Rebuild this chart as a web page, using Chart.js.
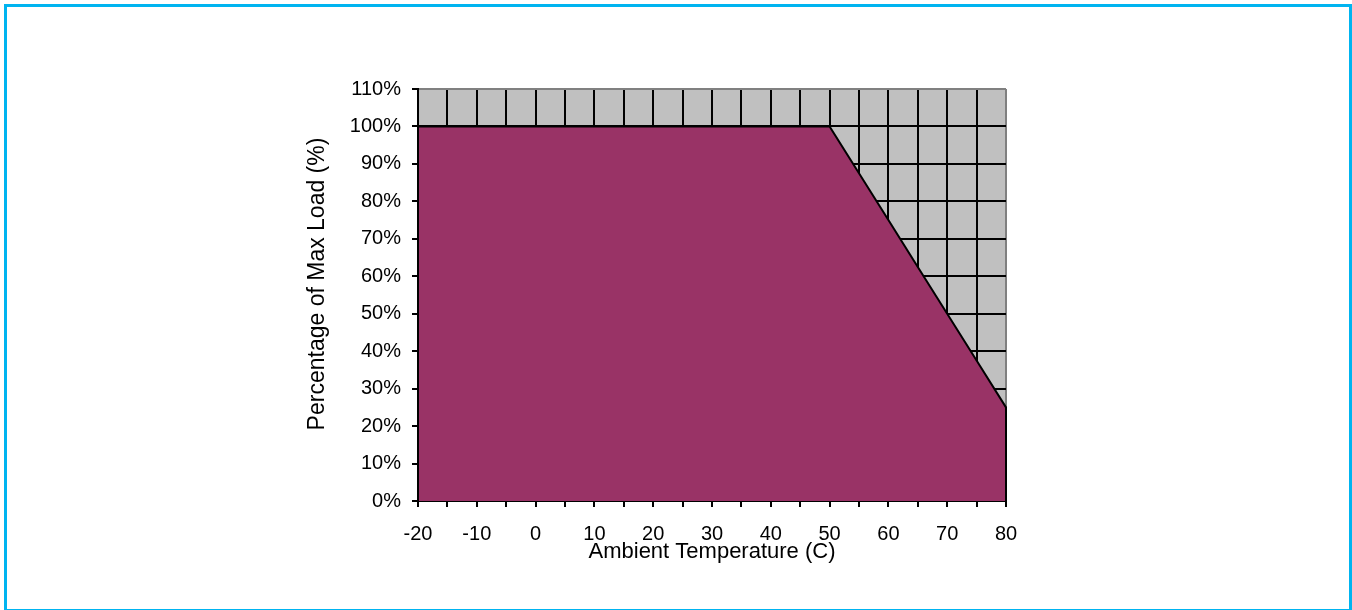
<!DOCTYPE html>
<html>
<head>
<meta charset="utf-8">
<script src="https://cdn.jsdelivr.net/npm/chart.js@4.4.1/dist/chart.umd.min.js"></script>
<style>
    html, body { margin: 0; padding: 0; background: #fff; }
    #wrap { position: absolute; left: 0; top: 0; width: 1352px; height: 610px; }
    #frame {
        position: absolute; left: 4px; top: 4px; width: 1348px; height: 608px;
        box-sizing: border-box; border: 3px solid #00b4f0; pointer-events: none;
    }
</style>
</head>
<body>
<div id="wrap"><canvas id="deratingChart"></canvas></div>
<div id="frame"></div>
<script>
// Derating curve data
const temps = [-20, -15, -10, -5, 0, 5, 10, 15, 20, 25, 30, 35, 40, 45, 50, 55, 60, 65, 70, 75, 80];
const loads = [100, 100, 100, 100, 100, 100, 100, 100, 100, 100, 100, 100, 100, 100, 100, 87.5, 75, 62.5, 50, 37.5, 25];
const yTicks = [0, 10, 20, 30, 40, 50, 60, 70, 80, 90, 100, 110];
const xTitle = "Ambient Temperature (C)";
const yTitle = "Percentage of Max Load (%)";

document.addEventListener("DOMContentLoaded", function () {
    const family = "'Liberation Sans', Arial, sans-serif";
    const tickFont = { family: family, size: 20 };
    const titleFont = { family: family, size: 22 };

    // closed outline so the right edge at 80 gets a black border too
    const points = temps.map((t, i) => ({ x: t, y: loads[i] }));
    const outline = [{ x: temps[0], y: 0 }, ...points, { x: temps[temps.length - 1], y: 0 }];

    const plotBackground = {
        id: "plotBackground",
        beforeDraw(chart) {
            const { ctx, chartArea } = chart;
            ctx.save();
            ctx.fillStyle = "#c0c0c0";
            ctx.fillRect(chartArea.left, chartArea.top, chartArea.width, chartArea.height);
            ctx.restore();
        }
    };

    // y title sits a little above the plot centre, like the original
    const sideTitle = {
        id: "sideTitle",
        afterDraw(chart) {
            const { ctx, chartArea } = chart;
            ctx.save();
            ctx.translate(317.5, (chartArea.top + chartArea.bottom) / 2 - 11);
            ctx.rotate(-Math.PI / 2);
            ctx.font = "23px " + family;
            ctx.fillStyle = "#000";
            ctx.textAlign = "center";
            ctx.textBaseline = "middle";
            ctx.fillText(yTitle, 0, 0);
            ctx.restore();
        }
    };

    new Chart(document.getElementById("deratingChart").getContext("2d"), {
        type: "line",
        data: {
            datasets: [{
                data: outline,
                fill: "origin",
                backgroundColor: "#993366",
                borderColor: "#000",
                borderWidth: 2,
                pointRadius: 0,
                tension: 0,
                clip: 2
            }]
        },
        options: {
            responsive: true,
            maintainAspectRatio: false,
            animation: false,
            layout: { padding: { left: 304, right: 346, top: 89, bottom: 45 } },
            plugins: { legend: { display: false }, tooltip: { enabled: false } },
            scales: {
                x: {
                    type: "linear",
                    min: temps[0],
                    max: temps[temps.length - 1],
                    afterFit(scale) { scale.height = 64; },
                    ticks: {
                        stepSize: 5,
                        color: "#000",
                        font: tickFont,
                        padding: 15,
                        maxRotation: 0,
                        autoSkip: false,
                        callback: v => (v % 10 === 0 ? String(v) : "")
                    },
                    grid: {
                        color: c => (c.tick && c.tick.value === 80 ? "#808080" : "#000"),
                        lineWidth: 2,
                        tickColor: "#000",
                        tickLength: 6
                    },
                    border: { color: "#000", width: 2 },
                    title: {
                        display: true,
                        text: xTitle,
                        color: "#000",
                        font: titleFont,
                        padding: { top: 0, bottom: 0 }
                    }
                },
                y: {
                    min: 0,
                    max: 110,
                    afterFit(scale) { scale.width = 114; },
                    afterBuildTicks(scale) { scale.ticks = yTicks.map(v => ({ value: v })); },
                    ticks: {
                        color: "#000",
                        font: tickFont,
                        padding: 11,
                        callback: v => v + "%"
                    },
                    grid: {
                        color: c => (c.tick && c.tick.value === 110 ? "#808080" : "#000"),
                        lineWidth: 2,
                        tickColor: "#000",
                        tickLength: 6
                    },
                    border: { color: "#000", width: 2 },
                    title: { display: false }
                }
            }
        },
        plugins: [plotBackground, sideTitle]
    });
});
</script>
</body>
</html>
